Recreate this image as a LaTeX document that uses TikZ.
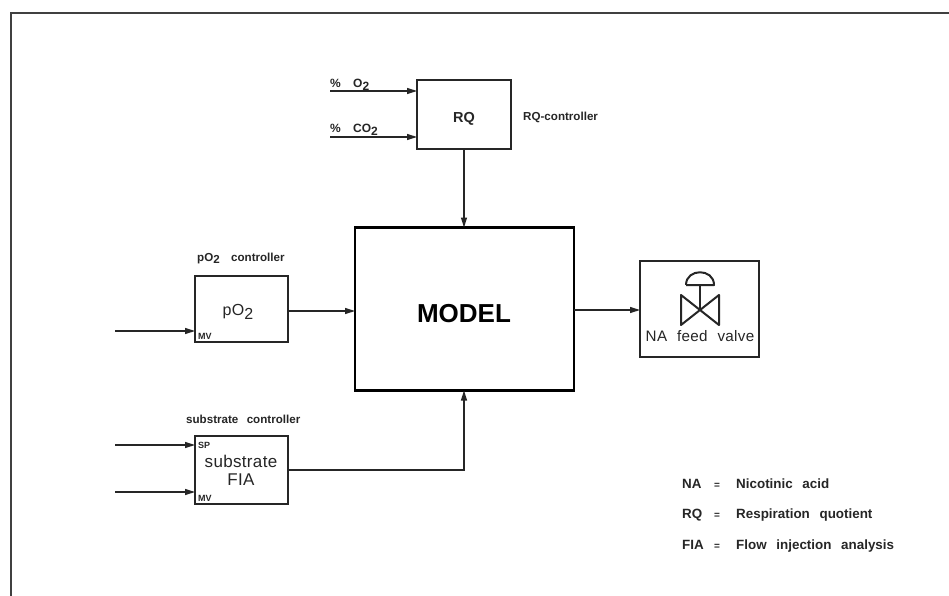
\documentclass[tikz,border=0pt]{standalone}
\usepackage{fontspec}
\setmainfont{Liberation Sans}
\usetikzlibrary{arrows.meta}
\newfontface\widebf{Liberation Sans Bold}[WordSpace=2.6]
\newfontface\widerg{Liberation Sans}[WordSpace=2.2,LetterSpace=2]
\tikzset{
  x=1pt,y=-1pt,
  blockbox/.style={draw=black!85,line width=1.6pt,fill=white,outer sep=0pt,inner sep=0pt},
  modelbox/.style={draw=black,line width=2.4pt,fill=white,outer sep=0pt,inner sep=0pt},
  flow/.style={draw=black!85,line width=1.3pt,-{Triangle[length=10pt,width=6pt]}},
  frameline/.style={draw=black!75,line width=1.3pt},
  valveline/.style={draw=black!85,line width=2pt,line join=round},
  smalllabel/.style={font=\widebf\fontsize{11.6}{13}\selectfont,inner sep=0pt,text=black!85,anchor=base west},
  portlabel/.style={font=\bfseries\fontsize{9}{10}\selectfont,inner sep=0pt,text=black!85,anchor=base west},
  inlabel/.style={font=\bfseries\fontsize{12}{13}\selectfont,inner sep=0pt,text=black!85,anchor=base west},
  boxtext/.style={font=\widerg\fontsize{17}{18}\selectfont,inner sep=0pt,text=black!85,align=center},
  legendtext/.style={font=\widebf\fontsize{13.4}{15}\selectfont,inner sep=0pt,text=black!85,anchor=base west}
}
\begin{document}
\begin{tikzpicture}
\useasboundingbox (0,0) rectangle (949,596);
\fill[white] (0,0) rectangle (949,596);
\coordinate (fa) at (11,596);
\coordinate (fb) at (11,13);
\coordinate (fc) at (949,13);
\draw[frameline] (fa) -- (fb) -- (fc);
% boxes
\node[blockbox,minimum width=94pt,minimum height=69pt] (rq) at (464,114.5) {};
\node[modelbox,minimum width=219pt,minimum height=163pt] (model) at (464.5,309) {};
\node[blockbox,minimum width=93pt,minimum height=66pt] (po) at (241.5,309) {};
\node[blockbox,minimum width=93pt,minimum height=68pt] (sub) at (241.5,470) {};
\node[blockbox,minimum width=119pt,minimum height=96pt] (valve) at (699.5,309) {};
% box texts
\node[font=\bfseries\fontsize{14.5}{16}\selectfont,text=black!85,inner sep=0pt] (rqt) at (464,119) {RQ};
\node[font=\bfseries\fontsize{26}{28}\selectfont,inner sep=0pt] (modelt) at (464,314) {MODEL};
\node[boxtext,font=\widerg\fontsize{16}{18}\selectfont] (pot) at (238,312) {pO\raisebox{-4pt}{2}};
\node[boxtext] (subt) at (241,470) {substrate\\FIA};
\node[font=\widerg\fontsize{15.2}{17}\selectfont,inner sep=0pt,text=black!85] (valvet) at (700,336) {NA feed valve};
% inputs
\coordinate (o2s) at (330,91); \coordinate (o2e) at (417,91);
\coordinate (co2s) at (330,137); \coordinate (co2e) at (417,137);
\coordinate (pos) at (115,331); \coordinate (poe) at (195,331);
\coordinate (sps) at (115,445); \coordinate (spe) at (195,445);
\coordinate (mvs) at (115,492); \coordinate (mve) at (195,492);
\draw[flow] (o2s) -- (o2e);
\draw[flow] (co2s) -- (co2e);
\draw[flow] (pos) -- (poe);
\draw[flow] (sps) -- (spe);
\draw[flow] (mvs) -- (mve);
% connectors
\draw[flow] (rq.south) -- (rq.south |- model.north);
\draw[flow] (po.east |- 0,311) -- (model.west |- 0,311);
\draw[flow] (model.east |- 0,310) -- (valve.west |- 0,310);
\draw[flow] (sub.east) -| (rq.south |- model.south);
% input labels
\node[inlabel] (lo2p) at (330,88) {\%};
\node[inlabel] (lo2) at (353,88) {O\raisebox{-2.5pt}{2}};
\node[inlabel] (lco2p) at (330,133) {\%};
\node[inlabel] (lco2) at (353,133) {CO\raisebox{-2.5pt}{2}};
% captions
\node[smalllabel] (rqc) at (523,121) {RQ-controller};
\node[smalllabel] (poc) at (197,261) {pO\raisebox{-2.5pt}{2}\hspace{3pt} controller};
\node[smalllabel] (subc) at (186,423) {substrate controller};
% ports
\node[portlabel] (mv1) at (198,339) {MV};
\node[portlabel] (sp) at (198,448) {SP};
\node[portlabel] (mv2) at (198,501) {MV};
% valve symbol
\coordinate (vc) at (699.5,310.5);
\coordinate (vlt) at (681,295); \coordinate (vlb) at (681,325);
\coordinate (vrt) at (719,295); \coordinate (vrb) at (719,325);
\coordinate (vs) at (699.5,285);
\draw[valveline] (vlt) -- (vrb) -- (vrt) -- (vlb) -- cycle;
\draw[valveline] (vc) -- (vs);
\coordinate (dl) at (686,285); \coordinate (dr) at (714,285);
\draw[valveline] (dl) -- (dr) .. controls (714,268) and (686,268) .. (dl);
% legend
\node[legendtext] (l1a) at (682,488) {NA};
\node[legendtext] (l1b) at (714,488) {\fontsize{10}{12}\selectfont =};
\node[legendtext] (l1c) at (736,488) {Nicotinic acid};
\node[legendtext] (l2a) at (682,518) {RQ};
\node[legendtext] (l2b) at (714,518) {\fontsize{10}{12}\selectfont =};
\node[legendtext] (l2c) at (736,518) {Respiration quotient};
\node[legendtext] (l3a) at (682,549) {FIA};
\node[legendtext] (l3b) at (714,549) {\fontsize{10}{12}\selectfont =};
\node[legendtext] (l3c) at (736,549) {Flow injection analysis};
\end{tikzpicture}
\end{document}
